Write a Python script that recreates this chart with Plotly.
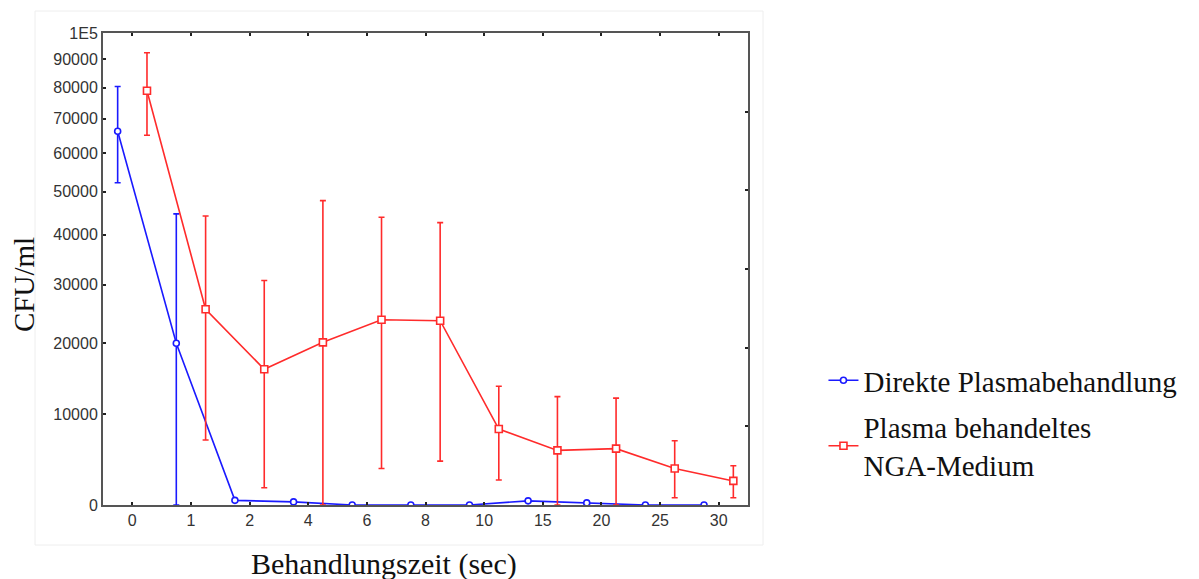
import plotly.graph_objects as go
import math

# Data
categories = ["0", "1", "2", "4", "6", "8", "10", "15", "20", "25", "30"]

blue_name = "Direkte Plasmabehandlung"
blue_mean = [66300, 20000, 450, 300, 0, 0, 0, 400, 200, 0, 0]
blue_hi = [80400, 44700, 450, 300, 0, 0, 0, 400, 200, 0, 0]
blue_lo = [52200, 0, 450, 300, 0, 0, 0, 400, 200, 0, 0]

red_name = "Plasma behandeltes<br>NGA-Medium"
red_mean = [79000, 25600, 16100, 20150, 23800, 23650, 8200, 5700, 5900, 3700, 2400]
red_hi = [92400, 44200, 30800, 47800, 43900, 42700, 13700, 12300, 12100, 6800, 4000]
red_lo = [65100, 6900, 1700, 0, 3700, 4500, 2500, 0, 0, 700, 700]

y_ticks = [0, 10000, 20000, 30000, 40000, 50000, 60000, 70000, 80000, 90000, 100000]
y_ticktext = ["0", "10000", "20000", "30000", "40000", "50000", "60000",
              "70000", "80000", "90000", "1E5"]

x_title = "Behandlungszeit (sec)"
y_title = "CFU/ml"

OFFSET = 32000  # axis is logarithmic in (value + OFFSET)
SHIFT = 0.25    # horizontal dodge of the two series


def tr(vals):
    return [v + OFFSET for v in vals]


idx = list(range(len(categories)))

fig = go.Figure()

BLUE = "#1a1aff"
RED = "#ff2b2b"

fig.add_trace(go.Scatter(
    x=[i - SHIFT for i in idx], y=tr(blue_mean), name=blue_name,
    mode="lines+markers",
    line=dict(color=BLUE, width=1.6),
    marker=dict(symbol="circle", size=6, color="white", line=dict(color=BLUE, width=1.6)),
    error_y=dict(type="data", symmetric=False,
                 array=[h - m for h, m in zip(blue_hi, blue_mean)],
                 arrayminus=[m - l for m, l in zip(blue_mean, blue_lo)],
                 color=BLUE, thickness=1.6, width=3),
    legendgroup="b",
))
fig.add_trace(go.Scatter(
    x=[i + SHIFT for i in idx], y=tr(red_mean), name=red_name,
    mode="lines+markers",
    line=dict(color=RED, width=1.6),
    marker=dict(symbol="square", size=7, color="white", line=dict(color=RED, width=1.6)),
    error_y=dict(type="data", symmetric=False,
                 array=[h - m for h, m in zip(red_hi, red_mean)],
                 arrayminus=[m - l for m, l in zip(red_mean, red_lo)],
                 color=RED, thickness=1.6, width=3),
    legendgroup="r",
))
# helper trace for right-side tick axis
fig.add_trace(go.Scatter(x=[None], y=[None], yaxis="y2", showlegend=False, hoverinfo="skip"))

AX = "#555555"
SERIF = "Liberation Serif, Times New Roman, serif"
fig.update_layout(
    width=1191, height=571,
    margin=dict(l=95, r=451, t=25, b=74, autoexpand=False),
    paper_bgcolor="white", plot_bgcolor="white",
    font=dict(family="Liberation Sans, Arial, sans-serif", color="#333333"),
    xaxis=dict(
        range=[-0.5, len(categories) - 0.5],
        tickmode="array", tickvals=idx, ticktext=categories,
        ticks="inside", ticklen=3, tickwidth=1.5, tickcolor="#222",
        showline=True, linecolor=AX, linewidth=2, mirror="ticks",
        showgrid=False, zeroline=False, automargin=False,
        tickfont=dict(size=16, color="#333"),
    ),
    yaxis=dict(
        type="log",
        range=[math.log10(OFFSET), math.log10(OFFSET + 100000)],
        tickmode="array", tickvals=tr(y_ticks), ticktext=y_ticktext,
        ticks="inside", ticklen=3, tickwidth=1.5, tickcolor="#222",
        showline=True, linecolor=AX, linewidth=2, mirror=True,
        showgrid=False, zeroline=False, automargin=False,
        tickfont=dict(size=16, color="#333"),
    ),
    yaxis2=dict(
        overlaying="y", side="right", range=[0, 6],
        tickmode="array", tickvals=[1, 2, 3, 4, 5],
        ticks="inside", ticklen=3, tickwidth=1.5, tickcolor="#222",
        showticklabels=False, showgrid=False, zeroline=False, showline=False,
        automargin=False,
    ),
    legend=dict(
        x=1.117, y=0.318, xanchor="left", yanchor="top",
        font=dict(family=SERIF, size=29, color="#111"),
        bgcolor="rgba(0,0,0,0)", traceorder="grouped", tracegroupgap=6,
        itemwidth=30,
    ),
    annotations=[
        dict(text=x_title, xref="paper", yref="paper",
             x=(383.5 - 103) / 645, y=-(564 - 505) / 472,
             xanchor="center", yanchor="middle", showarrow=False,
             font=dict(family=SERIF, size=30, color="#111")),
        dict(text=y_title, xref="paper", yref="paper", textangle=-90,
             x=(24 - 103) / 645, y=(505 - 285) / 472,
             xanchor="center", yanchor="middle", showarrow=False,
             font=dict(family=SERIF, size=29, color="#111")),
    ],
    shapes=[dict(type="rect", xref="paper", yref="paper",
                 x0=(35 - 103) / 645, x1=(763 - 103) / 645,
                 y0=-(545 - 505) / 472, y1=(505 - 11) / 472,
                 line=dict(color="#eeeeee", width=1), layer="below")],
    showlegend=True,
)

fig.write_html("out.html")
